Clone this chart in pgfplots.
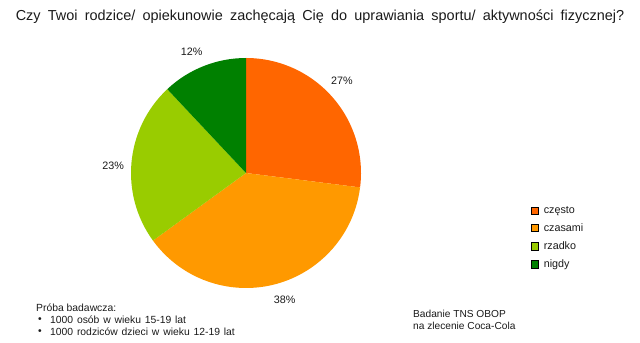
\documentclass[border=0pt]{standalone}
\usepackage{pgfplots}
\usepackage{pgfplotstable}
\pgfplotsset{compat=1.18}
\usepackage{fontspec}
\setmainfont{Liberation Sans}
\definecolor{cczesto}{HTML}{FF6600}
\definecolor{cczasami}{HTML}{FF9900}
\definecolor{crzadko}{HTML}{99CC00}
\definecolor{cnigdy}{HTML}{008000}
\definecolor{txt}{HTML}{1A1A1A}

\pgfplotstableread[col sep=comma]{
label,value,col
często,27,cczesto
czasami,38,cczasami
rzadko,23,crzadko
nigdy,12,cnigdy
}\piedata

\begin{document}
\begin{tikzpicture}
\begin{axis}[
  scale only axis, width=640bp, height=342bp,
  xmin=0, xmax=640, ymin=0, ymax=342,
  hide axis, clip=false,
  legend style={draw=none, fill=none, at={(axis cs:531,137)}, anchor=north west,
    font=\fontsize{10.8}{12}\selectfont, row sep=6.8bp, column sep=4bp, inner sep=0pt,
    text=txt, nodes={inner sep=1bp}},
  legend cell align=left,
  legend image code/.code={\fill[#1] (0bp,-3.6bp) rectangle (7.2bp,3.6bp);},
]
\path (axis cs:0,0) rectangle (axis cs:640,342);
% pie slices
\gdef\angstart{90}
\pgfplotsinvokeforeach{0,1,2,3}{
  \pgfplotstablegetelem{#1}{value}\of\piedata \let\val\pgfplotsretval
  \pgfplotstablegetelem{#1}{col}\of\piedata \let\colr\pgfplotsretval
  \pgfmathsetmacro\angend{\angstart-3.6*\val}
  \pgfmathsetmacro\angmid{(\angstart+\angend)/2+2.5}
  \edef\cmd{\noexpand\fill[\colr] (axis cs:246,169) -- ([shift={(axis cs:246,169)}]\angstart:115bp)
     arc[start angle=\angstart, end angle=\angend, radius=115bp] -- cycle;
     \noexpand\node[font=\noexpand\fontsize{10.8}{12}\noexpand\selectfont, text=txt, inner sep=0pt]
       at ([shift={(axis cs:246,169)}]\angmid:133bp) {\val\noexpand\%};}
  \cmd
  \global\let\angstart\angend
}
\addlegendimage{fill=cczesto}\addlegendentry{często}
\addlegendimage{fill=cczasami}\addlegendentry{czasami}
\addlegendimage{fill=crzadko}\addlegendentry{rzadko}
\addlegendimage{fill=cnigdy}\addlegendentry{nigdy}
% title
\node[font=\fontsize{14.5}{16}\selectfont, text=txt, inner sep=0pt] at (axis cs:320,325)
  {\spaceskip=7.2bp Czy Twoi rodzice/ opiekunowie zachęcają Cię do uprawiania sportu/ aktywności fizycznej?};
% notes
\node[font=\fontsize{10.4}{12}\selectfont, text=txt, inner sep=0pt, anchor=west, align=left]
  at (axis cs:36,34) {Próba badawcza:};
\node[font=\fontsize{10.4}{12}\selectfont, text=txt, inner sep=0pt, anchor=west]
  at (axis cs:38,22) {•};
\node[font=\fontsize{10.4}{12}\selectfont, text=txt, inner sep=0pt, anchor=west]
  at (axis cs:50,22) {\spaceskip=3.8bp 1000 osób w wieku 15-19 lat};
\node[font=\fontsize{10.4}{12}\selectfont, text=txt, inner sep=0pt, anchor=west]
  at (axis cs:38,10) {•};
\node[font=\fontsize{10.4}{12}\selectfont, text=txt, inner sep=0pt, anchor=west]
  at (axis cs:50,10) {\spaceskip=3.8bp 1000 rodziców dzieci w wieku 12-19 lat};
\node[font=\fontsize{10.2}{11.5}\selectfont, text=txt, inner sep=0pt, anchor=north west, align=left]
  at (axis cs:413,32) {Badanie TNS OBOP\\na zlecenie Coca-Cola};
\end{axis}
\end{tikzpicture}
\end{document}
